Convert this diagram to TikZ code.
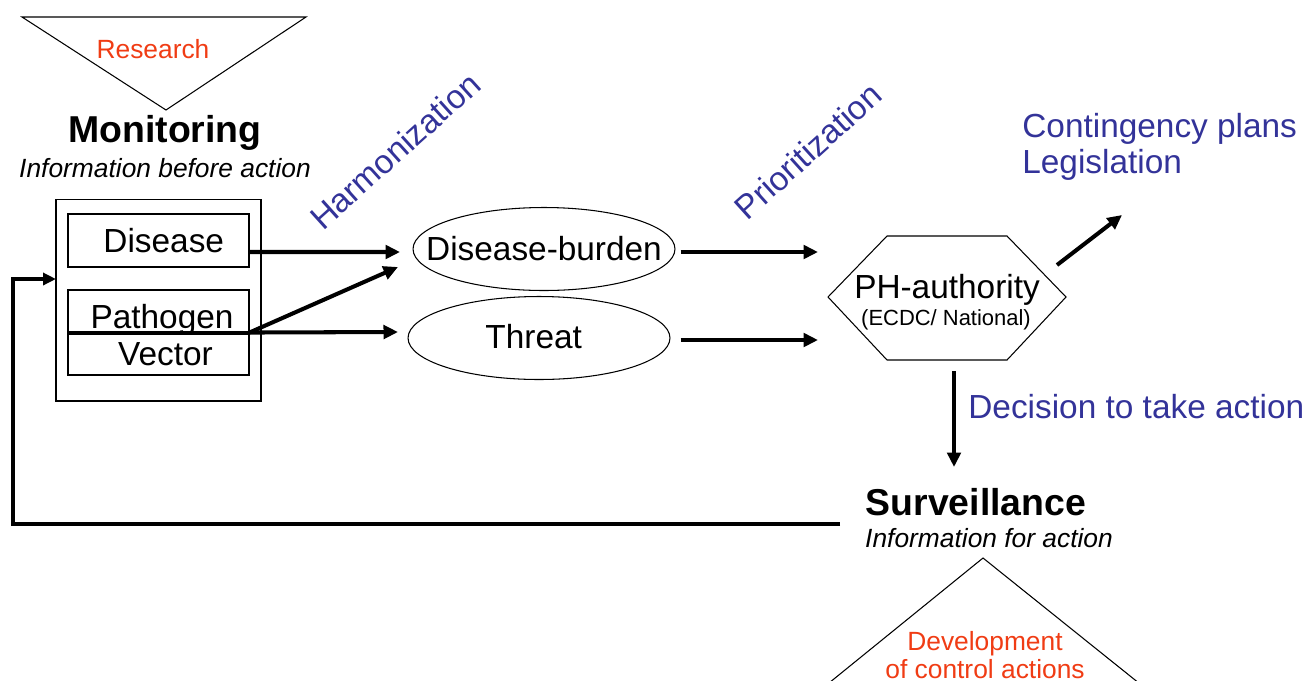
\documentclass[tikz,border=0pt]{standalone}
\usepackage{fontspec}
\setmainfont{Liberation Sans}
\usetikzlibrary{shapes.geometric,arrows.meta}
\definecolor{lblue}{RGB}{51,51,153}
\definecolor{lred}{RGB}{240,60,20}
\begin{document}
\begin{tikzpicture}[x=0.02cm,y=-0.02cm,
  thinline/.style={draw=black,line width=0.6pt},
  box/.style={thinline,rectangle,inner sep=0pt,minimum width=3.62cm},
  arr/.style={line width=2.3pt,-{Triangle[length=0.29cm,width=0.27cm]}},
  big/.style={font=\fontsize{19}{22}\selectfont},
  mid/.style={font=\fontsize{15}{16}\selectfont},
  small/.style={font=\fontsize{12.5}{14}\selectfont},
  title/.style={font=\fontsize{21.3}{24}\selectfont\bfseries},
  ell/.style={thinline,ellipse,inner sep=0pt,minimum width=5.24cm,minimum height=1.66cm,big}]
\useasboundingbox (0,0) rectangle (1310,680);
\clip (0,0) rectangle (1310,680);

% Research triangle
\draw[thinline] (22,17) -- (306,17) -- (166,110) -- cycle;
\node[mid,text=lred] (research) at (153,49) {Research};
\node[title] (monitoring) at (165,133) {Monitoring};
\node[font=\fontsize{15}{16}\selectfont\itshape] (monsub) at (165,168) {Information before action};

% Monitoring box
\node[thinline,rectangle,inner sep=0pt,minimum width=4.1cm,minimum height=4.04cm] (outer) at (158.5,300) {};
\node[box,minimum height=1.06cm,big] (dis) at (158.5,240.5) {\hspace*{6pt}Disease};
\node[box,minimum height=0.84cm,big,text depth=0pt] (pat) at (158.5,311) {\raisebox{-6pt}{\hspace*{4pt}Pathogen}};
\node[box,minimum height=0.82cm,big] (vec) at (158.5,354.5) {\hspace*{8pt}Vector};

% Ellipses
\node[ell] (db) at (544,249) {\makebox[3.3cm]{Disease-burden}};
\node[ell] (threat) at (539,338) {\raisebox{2pt}{\makebox[3.3cm]{\hspace*{-6pt}Threat}}};

% Hexagon
\draw[thinline] (828,297) -- (887,236) -- (1007,236) -- (1066,297) -- (1007,360) -- (887,360) -- cycle;
\node[big] (ph) at (947,290) {PH-authority};
\node[small] (phsub) at (946,320) {(ECDC/ National)};

% rotated labels
\node[big,text=lblue,rotate=42] (harm) at (395,151) {Harmonization};
\node[big,text=lblue,rotate=42] (prio) at (808,151) {Prioritization};

% right labels
\node[text=lblue,anchor=west,align=left,inner sep=0pt,font=\fontsize{19}{20.5}\selectfont] (cont) at (1022,147) {Contingency plans\\Legislation};
\node[big,text=lblue,anchor=west,inner sep=0pt] (dec) at (968,407) {Decision to take action};

% Surveillance
\node[title] (surv) at (976,502) {Surveillance};
\node[font=\fontsize{15}{16}\selectfont\itshape] (survsub) at (989,538) {Information for action};
\draw[thinline] (983,558) -- (808,700) -- (1160,700) -- cycle;
\node[text=lred,align=center,font=\fontsize{15}{16.2}\selectfont] (dev) at (985,655) {Development\\of control actions};

% coordinates
\coordinate (dbin1) at (400,252);
\coordinate (dbin2) at (398,267);
\coordinate (thin) at (398,332);
\coordinate (ph1) at (818,252);
\coordinate (ph2) at (818,340);
\coordinate (phout) at (1057,265);
\coordinate (contin) at (1122,215);
\coordinate (phdown) at (954,371);
\coordinate (survin) at (954,467);
\coordinate (fbstart) at (840,524);
\coordinate (fbin) at (56,279);

% connectors
\draw[arr] ([shift={(0,11.5)}]dis.east) -- (dbin1);
\draw[arr] (pat.south east) -- (dbin2);
\draw[arr] (pat.south east) -- (thin);
\draw[arr] ([shift={(5,3)}]db.east) -- (ph1);
\draw[arr] ([shift={(10,2)}]threat.east) -- (ph2);
\draw[arr] (phout) -- (contin);
\draw[arr] (phdown) -- (survin);
\draw[line width=1.9pt,-{Triangle[length=0.26cm,width=0.24cm]}] (fbstart) -- (13,524) -- (13,279) -- (fbin);
\end{tikzpicture}
\end{document}
